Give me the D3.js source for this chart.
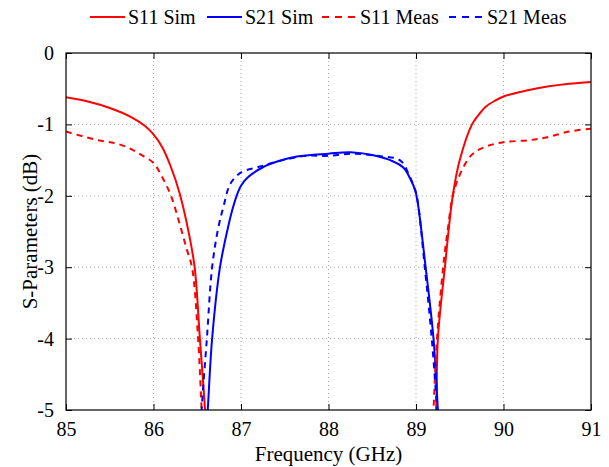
<!DOCTYPE html>
<html lang="en">
<head>
<meta charset="UTF-8">
<title>S-Parameters</title>
<style>
    body { margin: 0; background: #fff; }
    .grid line { stroke: #aaa; stroke-width: 1; stroke-dasharray: 1,3; }
</style>
</head>
<body>
<svg id="chart"></svg>
<script src="https://d3js.org/d3.v7.min.js"></script>
<script>
    // values (GHz, dB); points below -5 are clipped
    const freqS11Sim = [85, 85.25, 85.5, 85.75, 85.9, 86.0, 86.1, 86.2, 86.3, 86.4, 86.47, 86.53, 86.59, 86.63,
        89.19, 89.23, 89.25, 89.33, 89.42, 89.5, 89.64, 89.72, 89.8, 89.9, 90.0, 90.25, 90.5, 90.75, 91];
    const s11Sim = [-0.62, -0.68, -0.77, -0.9, -1.02, -1.14, -1.32, -1.6, -1.97, -2.5, -3.0, -4.0, -5.0, -5.8,
        -5.8, -5.0, -4.0, -3.0, -2.0, -1.5, -1.0, -0.86, -0.75, -0.67, -0.61, -0.53, -0.47, -0.43, -0.405];

    const freqS21Sim = [86.58, 86.62, 86.67, 86.76, 86.85, 86.9, 86.95, 87.0, 87.07, 87.25, 87.44, 87.64, 88.0,
        88.25, 88.5, 88.74, 88.86, 88.93, 88.99, 89.02, 89.11, 89.2, 89.25, 89.28];
    const s21Sim = [-5.8, -5.0, -4.0, -3.0, -2.45, -2.2, -2.0, -1.86, -1.75, -1.6, -1.51, -1.45, -1.41,
        -1.39, -1.43, -1.52, -1.61, -1.75, -1.92, -2.1, -3.0, -4.0, -5.0, -5.8];

    const freqS11Meas = [85, 85.2, 85.4, 85.55, 85.7, 85.85, 86.0, 86.1, 86.2, 86.3, 86.38, 86.44, 86.51, 86.55, 86.58,
        89.17, 89.2, 89.24, 89.31, 89.36, 89.42, 89.47, 89.55, 89.65, 89.8, 90.0, 90.3, 90.5, 90.75, 91];
    const s11Meas = [-1.1, -1.17, -1.23, -1.26, -1.32, -1.42, -1.54, -1.74, -2.0, -2.4, -2.75, -3.0, -4.0, -5.0, -5.8,
        -5.8, -5.0, -4.0, -3.0, -2.5, -2.0, -1.8, -1.58, -1.41, -1.31, -1.25, -1.22, -1.18, -1.1, -1.06];

    const freqS21Meas = [86.52, 86.55, 86.61, 86.67, 86.74, 86.8, 86.87, 86.95, 87.02, 87.22, 87.48, 87.75, 88.0, 88.28,
        88.55, 88.78, 88.85, 88.91, 88.97, 89.01, 89.1, 89.18, 89.24, 89.27];
    const s21Meas = [-5.8, -5.0, -4.0, -3.0, -2.45, -2.15, -1.85, -1.72, -1.66, -1.59, -1.5, -1.44, -1.44, -1.41,
        -1.44, -1.48, -1.54, -1.68, -1.85, -2.01, -3.0, -4.0, -5.0, -5.8];

    const xTicks = [85, 86, 87, 88, 89, 90, 91];
    const yTicks = [0, -1, -2, -3, -4, -5];

    const series = [
        { name: "S11 Sim", freq: freqS11Sim, vals: s11Sim, color: "#ff0000", dash: null },
        { name: "S21 Sim", freq: freqS21Sim, vals: s21Sim, color: "#0000ff", dash: null },
        { name: "S11 Meas", freq: freqS11Meas, vals: s11Meas, color: "#ff0000", dash: "6,5" },
        { name: "S21 Meas", freq: freqS21Meas, vals: s21Meas, color: "#0000ff", dash: "6,5" }
    ];

    const FONT = "Liberation Serif";
    const width = 609, height = 467;
    const margin = { top: 53, right: 18, bottom: 57, left: 66 };
    const w = width - margin.left - margin.right;
    const h = height - margin.top - margin.bottom;

    const svg = d3.select("#chart").attr("width", width).attr("height", height)
        .style("font-family", FONT);
    const g = svg.append("g").attr("transform", `translate(${margin.left},${margin.top})`);

    const x = d3.scaleLinear().domain([85, 91]).range([0, w]);
    const y = d3.scaleLinear().domain([-5, 0]).range([h, 0]);

    // dotted grid
    const grid = g.append("g").attr("class", "grid");
    grid.selectAll("line.v").data(xTicks.slice(1, -1)).join("line").attr("class", "v")
        .attr("x1", d => x(d)).attr("x2", d => x(d)).attr("y1", 0).attr("y2", h);
    grid.selectAll("line.h").data(yTicks.slice(1, -1)).join("line").attr("class", "h")
        .attr("x1", 0).attr("x2", w).attr("y1", d => y(d)).attr("y2", d => y(d));

    svg.append("defs").append("clipPath").attr("id", "clip")
        .append("rect").attr("width", w).attr("height", h);

    const line = d3.line()
        .x(d => x(d[0]))
        .y(d => y(d[1]))
        .curve(d3.curveCatmullRom.alpha(0.5));

    g.append("g").attr("clip-path", "url(#clip)")
        .selectAll("path")
        .data(series)
        .join("path")
        .attr("d", s => line(s.freq.map((f, i) => [f, s.vals[i]])))
        .attr("fill", "none")
        .attr("stroke", s => s.color)
        .attr("stroke-width", 2)
        .attr("stroke-dasharray", s => s.dash);

    // axes, ticks inside on all four sides
    const tickStyle = sel => {
        sel.attr("font-family", null).attr("font-size", null);
        sel.select(".domain").remove();
        sel.selectAll(".tick line").attr("stroke", "#000");
        sel.selectAll(".tick text").attr("fill", "#000")
            .attr("font-family", FONT).attr("font-size", 20);
    };
    const fmt = d => String(d);
    g.append("g").attr("transform", `translate(0,${h})`)
        .call(d3.axisBottom(x).tickValues(xTicks).tickFormat(fmt).tickSizeInner(-6).tickPadding(12))
        .call(tickStyle);
    g.append("g")
        .call(d3.axisLeft(y).tickValues(yTicks).tickFormat(fmt).tickSizeInner(-6).tickPadding(12))
        .call(tickStyle);
    g.append("g")
        .call(d3.axisTop(x).tickValues(xTicks).tickFormat("").tickSizeInner(-6))
        .call(tickStyle);
    g.append("g").attr("transform", `translate(${w},0)`)
        .call(d3.axisRight(y).tickValues(yTicks).tickFormat("").tickSizeInner(-6))
        .call(tickStyle);

    g.append("rect").attr("width", w).attr("height", h)
        .attr("fill", "none").attr("stroke", "#000").attr("stroke-width", 1.2);

    // axis titles
    svg.append("text")
        .attr("x", margin.left + w / 2).attr("y", height - 6)
        .attr("text-anchor", "middle")
        .attr("font-family", FONT).attr("font-size", 21)
        .text("Frequency (GHz)");
    svg.append("text")
        .attr("transform", `translate(37,${margin.top + h / 2}) rotate(-90)`)
        .attr("text-anchor", "middle")
        .attr("font-family", FONT).attr("font-size", 21)
        .text("S-Parameters (dB)");

    // legend
    const legendX = [90, 207, 322, 449];
    const legend = svg.append("g").selectAll("g").data(series).join("g")
        .attr("transform", (d, i) => `translate(${legendX[i]},17)`);
    legend.append("line")
        .attr("x1", 0).attr("x2", 35).attr("y1", 0).attr("y2", 0)
        .attr("stroke", d => d.color).attr("stroke-width", 2)
        .attr("stroke-dasharray", d => d.dash ? "7,6" : null);
    legend.append("text")
        .attr("x", 38).attr("y", 7)
        .attr("font-family", FONT).attr("font-size", 20)
        .text(d => d.name);
</script>
</body>
</html>
